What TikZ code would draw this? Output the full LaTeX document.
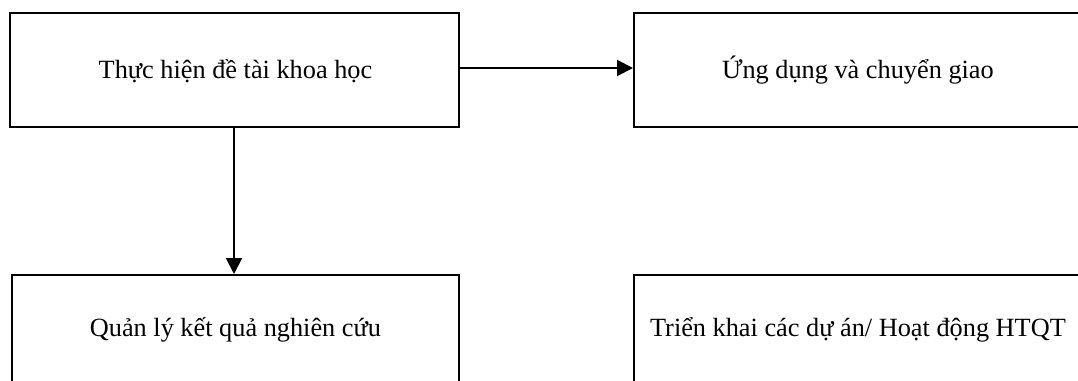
\documentclass[tikz,border=0pt]{standalone}
\usepackage{fontspec}
\setmainfont{Liberation Serif}
\usetikzlibrary{arrows.meta,calc}
\begin{document}
\begin{tikzpicture}[x=1pt,y=-1pt,
  stagebox/.style={draw=black,line width=1.9pt,rectangle,inner sep=0pt,anchor=north west},
  stagetext/.style={anchor=base,inner sep=0pt,font=\fontsize{26.3}{31}\selectfont},
  flow/.style={line width=2pt,-{Triangle[length=16pt,width=16pt]}}]
  \useasboundingbox (0,0) rectangle (1078,380);
  \fill[white] (0,0) rectangle (1078,380);
  \clip (0,0) rectangle (1078,380);
  % four activity boxes (the right and lower ones run past the frame)
  \node[stagebox,minimum width=449pt,minimum height=114pt] (research) at (9,12) {};
  \node[stagebox,minimum width=448pt,minimum height=114pt] (transfer) at (633,12) {};
  \node[stagebox,minimum width=447pt,minimum height=114pt] (results) at (11,274) {};
  \node[stagebox,minimum width=448pt,minimum height=114pt] (projects) at (633,274) {};
  % box captions
  \node[stagetext] (researchT) at ($(research.center)+(1,9)$) {Thực hiện đề tài khoa học};
  \node[stagetext] (transferT) at ($(transfer.center)+(0,9)$) {Ứng dụng và chuyển giao};
  \node[stagetext] (resultsT) at ($(results.north)+(0,62)$) {Quản lý kết quả nghiên cứu};
  \node[stagetext] (projectsT) at ($(projects.north)+(0,62)$) {Triển khai các dự án/ Hoạt động HTQT};
  % connectors
  \draw[flow] (research.east |- 0,68) -- (transfer.west |- 0,68);
  \draw[flow] (234,126) coordinate (down) -- (down |- results.north);
\end{tikzpicture}
\end{document}
